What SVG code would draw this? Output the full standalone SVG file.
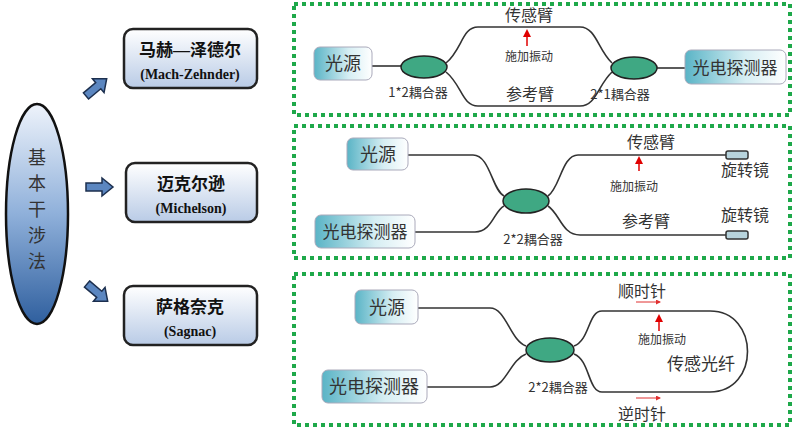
<svg xmlns="http://www.w3.org/2000/svg" width="794" height="429" viewBox="0 0 794 429">
<defs>
<linearGradient id="gE" x1="0" y1="0" x2="0" y2="1"><stop offset="0" stop-color="#eef3fb"/><stop offset="0.5" stop-color="#8fb0da"/><stop offset="1" stop-color="#2f5f9e"/></linearGradient>
<linearGradient id="gB" x1="0" y1="0" x2="0" y2="1"><stop offset="0" stop-color="#ffffff"/><stop offset="1" stop-color="#b9cbe6"/></linearGradient>
<linearGradient id="gD" x1="0" y1="0" x2="1" y2="0"><stop offset="0" stop-color="#5ab4c6"/><stop offset="0.6" stop-color="#d6eef3"/><stop offset="1" stop-color="#ffffff"/></linearGradient>
<marker id="ar" markerWidth="8" markerHeight="8" refX="4" refY="4" orient="auto" markerUnits="userSpaceOnUse"><path d="M0,0 L8,4 L0,8 z" fill="#e00000"/></marker>
<marker id="as" markerWidth="5" markerHeight="5" refX="4" refY="2.5" orient="auto" markerUnits="userSpaceOnUse"><path d="M0,0 L5,2.5 L0,5 z" fill="#e03030"/></marker>
</defs>
<style>
.panel{fill:none;stroke:#1ea84a;stroke-width:4;stroke-dasharray:4 4}
.cat{fill:url(#gB);stroke:#222;stroke-width:2.5}
.dev{fill:url(#gD);stroke:#aab;stroke-width:1}
.cp{fill:#3fa883;stroke:#222;stroke-width:1.5}
.f{fill:none;stroke:#333;stroke-width:1.6}
.t{font-family:"Noto Sans CJK SC",sans-serif;fill:#333;text-anchor:middle}
.s{font-family:"Liberation Serif","Noto Sans CJK SC",serif;font-weight:bold;fill:#111;text-anchor:middle}
.ba{fill:#5b86c0;stroke:#1c2f4e;stroke-width:1.5}
.mir{fill:#b7d3dc;stroke:#333;stroke-width:1.5}
.red{stroke:#e00000;stroke-width:1.5;fill:none}
</style>
<rect width="794" height="429" fill="#fff"/>
<g id="root">
<ellipse cx="37" cy="214" rx="31" ry="110" fill="url(#gE)" stroke="#111" stroke-width="2.5"/>
<text class="t" font-size="18" fill="#111" x="37"><tspan x="37" y="164">基</tspan><tspan x="37" y="190">本</tspan><tspan x="37" y="216">干</tspan><tspan x="37" y="242">涉</tspan><tspan x="37" y="268">法</tspan></text>
</g>
<g id="arrows">
<path class="ba" d="M0,-4 L16,-4 L16,-9 L27,0 L16,9 L16,4 L0,4 z" transform="translate(86,96) rotate(-40)"/>
<path class="ba" d="M0,-4 L16,-4 L16,-9 L27,0 L16,9 L16,4 L0,4 z" transform="translate(86,187)"/>
<path class="ba" d="M0,-4 L16,-4 L16,-9 L27,0 L16,9 L16,4 L0,4 z" transform="translate(87,284) rotate(40)"/>
</g>
<g id="mz-cat"><rect class="cat" x="124" y="29" width="133" height="59" rx="9"/><text class="s" font-size="17" x="190" y="56">马赫—泽德尔</text><text class="s" font-size="14" x="190" y="79">(Mach-Zehnder)</text></g>
<g id="mi-cat"><rect class="cat" x="126" y="163" width="131" height="59" rx="9"/><text class="s" font-size="17" x="191" y="190">迈克尔逊</text><text class="s" font-size="14" x="191" y="213">(Michelson)</text></g>
<g id="sa-cat"><rect class="cat" x="124" y="286" width="133" height="59" rx="9"/><text class="s" font-size="17" x="190" y="313">萨格奈克</text><text class="s" font-size="14" x="190" y="336">(Sagnac)</text></g>

<rect class="panel" x="294" y="4" width="496" height="111"/>
<rect class="panel" x="294" y="126" width="496" height="132"/>
<rect class="panel" x="294" y="274" width="496" height="151"/>

<g id="connectors">
<path class="f" d="M372,66 L401,66"/>
<path class="f" d="M446,63 C462,50 462,27 478,27 L580,27 C596,27 598,50 612,63"/>
<path class="f" d="M446,72 C462,85 462,106 478,106 L580,106 C596,106 598,85 612,72"/>
<path class="f" d="M657,68 L685,68"/>
<path class="f" d="M408,155 L473,155 C490,155 492,190 504,196"/>
<path class="f" d="M415,232 L475,232 C492,232 494,211 504,206"/>
<path class="f" d="M548,196 C560,188 562,155 578,155 L726,155"/>
<path class="f" d="M548,206 C560,214 562,235 580,235 L726,235"/>
<path class="f" d="M418,308 L490,308 C506,308 510,340 526,346"/>
<path class="f" d="M427,387 L490,387 C506,387 510,360 526,354"/>
<path class="f" d="M574,346 C590,340 588,311 602,311 L710,311 C760,311 760,392 710,392 L602,392 C588,392 590,360 574,354"/>
<path class="red" d="M527,46 L527,33" marker-end="url(#ar)"/>
<path class="red" d="M639,171 L639,160" marker-end="url(#ar)"/>
<path class="red" d="M659,331 L659,318" marker-end="url(#ar)"/>
<path stroke="#e03030" stroke-width="1" d="M636,302 L660,302" marker-end="url(#as)"/>
<path stroke="#e03030" stroke-width="1" d="M636,398 L660,398" marker-end="url(#as)"/>
</g>

<g id="mz">
<g id="mz-src"><rect class="dev" x="314" y="47" width="58" height="33" rx="6"/><text class="t" font-size="18" x="343" y="70">光源</text></g>
<g id="mz-c1"><ellipse class="cp" cx="424" cy="67" rx="23" ry="11"/></g>
<g id="mz-c2"><ellipse class="cp" cx="634" cy="68" rx="23" ry="11"/></g>
<g id="mz-det"><rect class="dev" x="685" y="50" width="101" height="34" rx="6"/><text class="t" font-size="17" x="735" y="74">光电探测器</text></g>
<text class="t" font-size="16" x="529" y="21">传感臂</text>
<text class="t" font-size="12" fill="#777" x="529" y="61">施加振动</text>
<text class="t" font-size="13" x="418" y="97">1*2耦合器</text>
<text class="t" font-size="16" x="530" y="100">参考臂</text>
<text class="t" font-size="13" x="620" y="99">2*1耦合器</text>
</g>

<g id="mi">
<g id="mi-src"><rect class="dev" x="347" y="138" width="61" height="32" rx="6"/><text class="t" font-size="18" x="378" y="161">光源</text></g>
<g id="mi-det"><rect class="dev" x="315" y="215" width="100" height="33" rx="6"/><text class="t" font-size="17" x="365" y="238">光电探测器</text></g>
<g id="mi-c"><ellipse class="cp" cx="526" cy="201" rx="23" ry="12"/></g>
<g id="mi-m1"><rect class="mir" x="726" y="151" width="22" height="8" rx="2"/></g>
<g id="mi-m2"><rect class="mir" x="726" y="231" width="22" height="8" rx="2"/></g>
<text class="t" font-size="16" x="651" y="148">传感臂</text>
<text class="t" font-size="16" x="745" y="176">旋转镜</text>
<text class="t" font-size="12" fill="#777" x="634" y="191">施加振动</text>
<text class="t" font-size="16" x="646" y="227">参考臂</text>
<text class="t" font-size="16" x="745" y="221">旋转镜</text>
<text class="t" font-size="13" x="533" y="244">2*2耦合器</text>
</g>

<g id="sa">
<g id="sa-src"><rect class="dev" x="355" y="290" width="63" height="34" rx="6"/><text class="t" font-size="18" x="387" y="314">光源</text></g>
<g id="sa-det"><rect class="dev" x="322" y="370" width="105" height="33" rx="6"/><text class="t" font-size="18" x="374" y="393">光电探测器</text></g>
<g id="sa-c"><ellipse class="cp" cx="550" cy="350" rx="24" ry="12"/></g>
<text class="t" font-size="16" x="642" y="297">顺时针</text>
<text class="t" font-size="12" fill="#777" x="662" y="344">施加振动</text>
<text class="t" font-size="17" x="701" y="370">传感光纤</text>
<text class="t" font-size="13" x="558" y="392">2*2耦合器</text>
<text class="t" font-size="16" x="642" y="420">逆时针</text>
</g>
</svg>
